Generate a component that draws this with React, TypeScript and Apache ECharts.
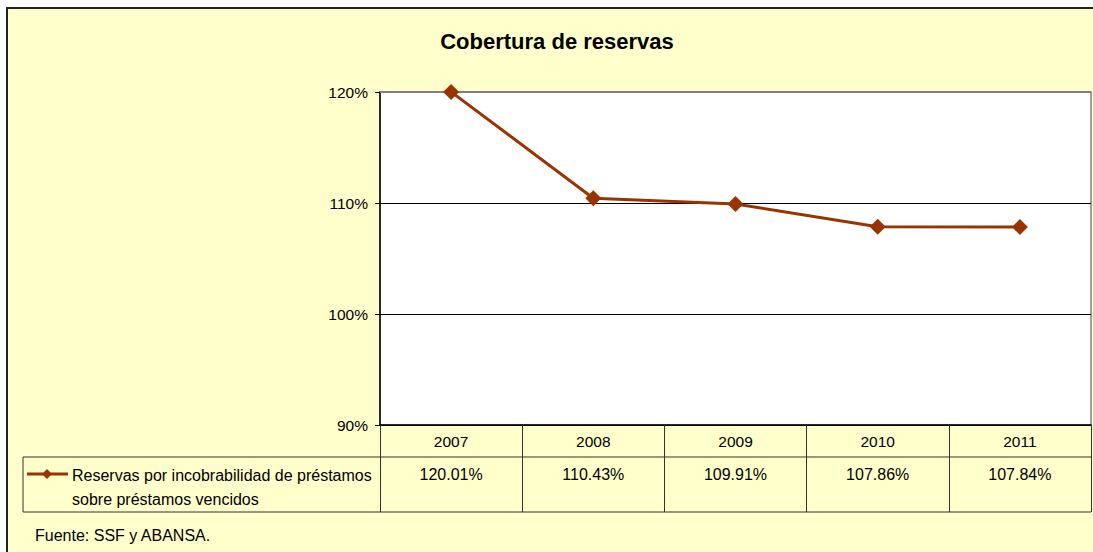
import React, { useEffect, useRef } from "react";
import * as echarts from "echarts";

const categories = ["2007", "2008", "2009", "2010", "2011"];
const values = [120.01, 110.43, 109.91, 107.86, 107.84];
const yTicks = { min: 90, max: 120, interval: 10 };
const titleText = "Cobertura de reservas";
const seriesName = "Reservas por incobrabilidad de préstamos sobre préstamos vencidos";
const legendLines = ["Reservas por incobrabilidad de préstamos", "sobre préstamos vencidos"];
const sourceText = "Fuente: SSF y ABANSA.";

const FONT = "'Liberation Sans', Arial, sans-serif";
const LINE_COLOR = "#993300";
const BG = "#FFFFCC";

const GRID = { left: 380, top: 92, right: 1091, bottom: 425 };
const TABLE = { left: 23, row1: 457, row2: 512 };

const fmtPct = (v: number) => v.toFixed(2) + "%";

export default function App() {
  const ref = useRef<HTMLDivElement>(null);

  useEffect(() => {
    if (!ref.current) return;
    const chart = echarts.init(ref.current, null, { renderer: "svg" });
    const option: any = {
      animation: false,
      backgroundColor: "#ffffff",
      textStyle: { fontFamily: FONT },
      grid: {
        left: GRID.left,
        top: GRID.top,
        width: GRID.right - GRID.left,
        height: GRID.bottom - GRID.top,
        show: true,
        backgroundColor: "#ffffff",
        borderColor: "#808080",
        borderWidth: 1.5,
        containLabel: false,
      },
      xAxis: [
        {
          type: "category",
          data: categories,
          boundaryGap: true,
          position: "bottom",
          axisLine: { show: true, lineStyle: { color: "#000", width: 1.5 } },
          axisTick: {
            show: true,
            interval: 0,
            alignWithLabel: false,
            length: TABLE.row2 - GRID.bottom,
            lineStyle: { color: "#333", width: 1 },
          },
          axisLabel: { interval: 0, margin: 8, fontSize: 15.5, color: "#000", fontFamily: FONT },
          splitLine: { show: false },
        },
        {
          type: "category",
          data: categories,
          boundaryGap: true,
          position: "bottom",
          axisLine: { show: false },
          axisTick: { show: false },
          axisLabel: {
            interval: 0,
            margin: 41,
            fontSize: 16,
            color: "#000",
            fontFamily: FONT,
            formatter: (_v: string, idx: number) => fmtPct(values[idx]),
          },
          splitLine: { show: false },
        },
      ],
      yAxis: {
        type: "value",
        min: yTicks.min,
        max: yTicks.max,
        interval: yTicks.interval,
        axisLine: { show: true, lineStyle: { color: "#000", width: 1.5 } },
        axisTick: { show: true, length: 5, lineStyle: { color: "#000" } },
        axisLabel: {
          margin: 12,
          fontSize: 15.5,
          color: "#000",
          fontFamily: FONT,
          formatter: (v: number) => v + "%",
        },
        splitLine: { show: true, lineStyle: { color: "#000", width: 1 } },
      },
      series: [
        {
          name: seriesName,
          type: "line",
          data: values,
          symbol: "diamond",
          symbolSize: 16,
          clip: false,
          lineStyle: { color: LINE_COLOR, width: 3 },
          itemStyle: { color: LINE_COLOR },
          z: 5,
        },
      ],
      graphic: [
        { type: "rect", z: -10, shape: { x: 7, y: 8, width: 1200, height: 600 }, style: { fill: BG } },
        { type: "line", z: -9, shape: { x1: 6, y1: 8, x2: 1200, y2: 8 }, style: { stroke: "#222", lineWidth: 2 } },
        { type: "line", z: -9, shape: { x1: 7, y1: 8, x2: 7, y2: 600 }, style: { stroke: "#222", lineWidth: 2 } },
        {
          type: "line",
          shape: { x1: GRID.left, y1: GRID.top, x2: GRID.right, y2: GRID.top },
          style: { stroke: "#808080", lineWidth: 2 },
          z: 3,
        },
        {
          type: "text",
          x: 557,
          y: 41,
          style: { text: titleText, font: `bold 22px ${FONT}`, fill: "#000", textAlign: "center", textVerticalAlign: "middle" },
        },
        { type: "line", shape: { x1: TABLE.left, y1: TABLE.row1, x2: GRID.right, y2: TABLE.row1 }, style: { stroke: "#333", lineWidth: 1 } },
        { type: "line", shape: { x1: TABLE.left, y1: TABLE.row2, x2: GRID.right, y2: TABLE.row2 }, style: { stroke: "#333", lineWidth: 1 } },
        { type: "line", shape: { x1: TABLE.left, y1: TABLE.row1, x2: TABLE.left, y2: TABLE.row2 }, style: { stroke: "#333", lineWidth: 1 } },
        { type: "line", shape: { x1: 27, y1: 474, x2: 68, y2: 474 }, style: { stroke: LINE_COLOR, lineWidth: 3 } },
        { type: "polygon", shape: { points: [[47, 469], [52, 474], [47, 479], [42, 474]] }, style: { fill: LINE_COLOR } },
        { type: "text", x: 72, y: 475, style: { text: legendLines[0], font: `16px ${FONT}`, fill: "#000", textVerticalAlign: "middle" } },
        { type: "text", x: 72, y: 499, style: { text: legendLines[1], font: `16px ${FONT}`, fill: "#000", textVerticalAlign: "middle" } },
        { type: "text", x: 35, y: 535, style: { text: sourceText, font: `16px ${FONT}`, fill: "#000", textVerticalAlign: "middle" } },
      ],
    };
    chart.setOption(option);
    return () => chart.dispose();
  }, []);

  return <div ref={ref} style={{ position: "fixed", left: 0, top: 0, width: 1093, height: 552 }} />;
}
